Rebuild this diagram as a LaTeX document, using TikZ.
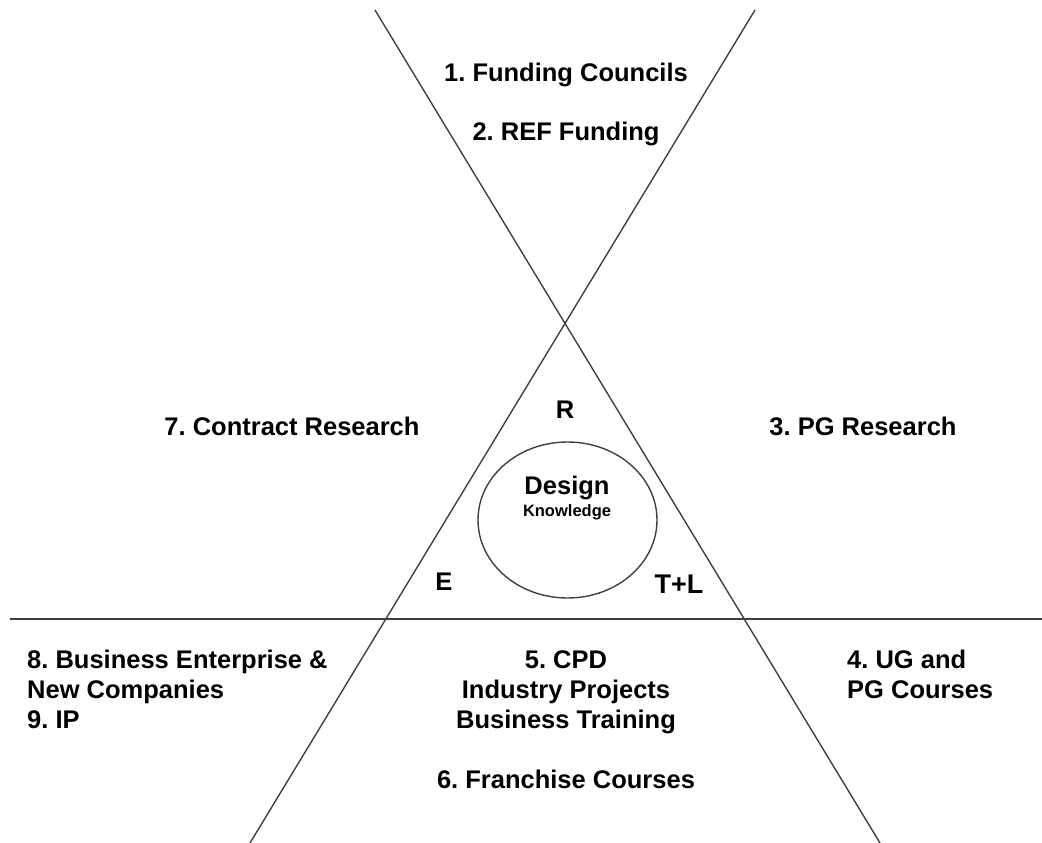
\documentclass[tikz,border=0pt]{standalone}
\usepackage{fontspec}
\setmainfont{Liberation Sans}
\usetikzlibrary{shapes.geometric}
\frenchspacing
\begin{document}
\begin{tikzpicture}[x=1pt,y=-1pt,
  lbl/.style={font=\bfseries\fontsize{25.5}{30}\selectfont, inner sep=0pt, align=center},
  lblL/.style={font=\bfseries\fontsize{25.5}{30}\selectfont, inner sep=0pt, align=left, anchor=north west},
  small/.style={font=\bfseries\fontsize{16.5}{20}\selectfont, inner sep=0pt},
  ln/.style={draw=black!75, line width=1.4pt}]
\useasboundingbox (0,0) rectangle (1042,843);
% line end points
\coordinate (aTop) at (375,10);
\coordinate (aBot) at (880,843);
\coordinate (bTop) at (755,10);
\coordinate (bBot) at (250,843);
\coordinate (hL) at (10,619);
\coordinate (hR) at (1042,619);
\draw[ln] (aTop) -- (aBot);
\draw[ln] (bTop) -- (bBot);
\draw[ln] (hL) -- (hR);
% circle
\node[ln, ellipse, draw, minimum width=179pt, minimum height=156pt, inner sep=0pt] (dk) at (567.5,520) {};
\node[lbl] (design) at (567,488) {Design};
\node[small] (know) at (567,512) {Knowledge};
% triangle labels
\node[lbl] (R) at (565,410) {R};
\node[lbl] (E) at (444,582) {E};
\node[lbl, font=\bfseries\fontsize{27}{30}\selectfont] (TL) at (679,584) {T+L};
% sector labels
\node[lbl] (n1) at (566,75) {1. Funding Councils};
\node[lbl] (n2) at (566,134) {2. REF Funding};
\node[lbl] (n7) at (292,426) {7. Contract Research};
\node[lbl] (n3) at (863,426) {3. PG Research};
\node[lblL, text depth=0pt] (n8) at (27,650) {8. Business Enterprise \&\\New Companies\\9. IP};
\node[lbl, anchor=north, text depth=0pt] (n5) at (566,650) {5. CPD\\Industry Projects\\Business Training};
\node[lbl] (n6) at (566,779) {6. Franchise Courses};
\node[lblL, text depth=0pt] (n4) at (847,650) {4. UG and\\PG Courses};
\end{tikzpicture}
\end{document}
